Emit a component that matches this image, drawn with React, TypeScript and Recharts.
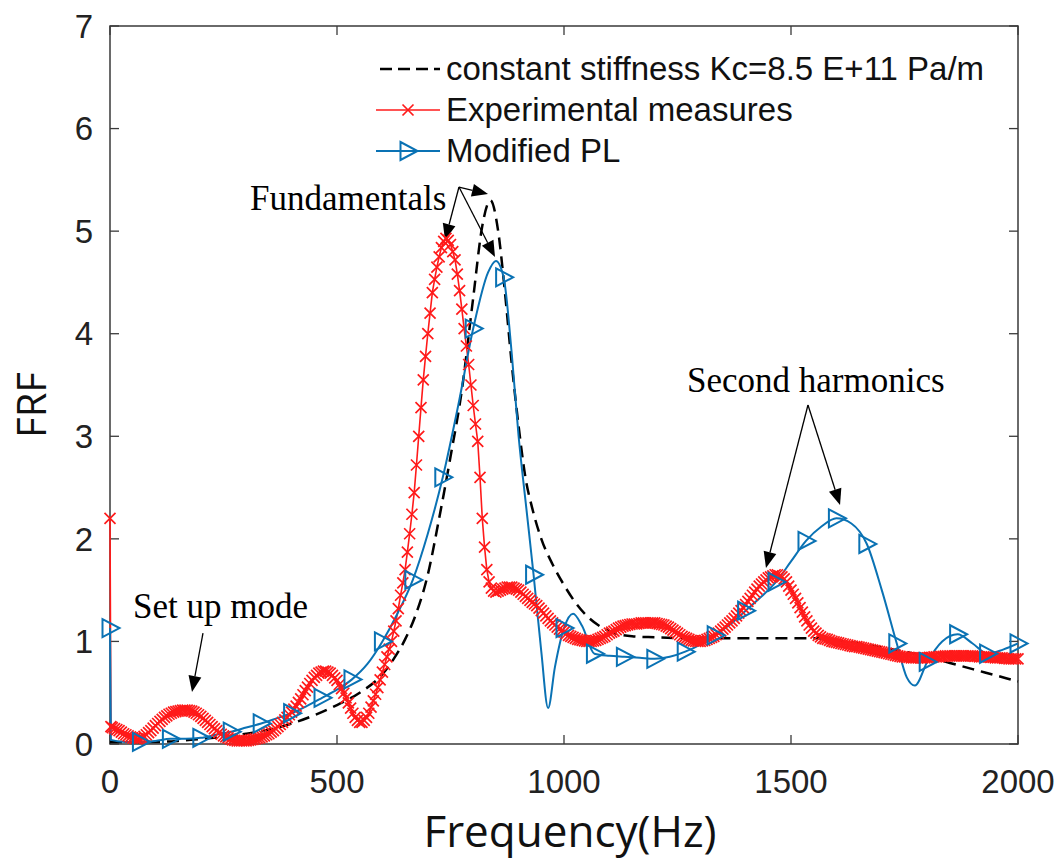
import React from 'react';
import {
  ComposedChart,
  Line,
  XAxis,
  YAxis,
  ReferenceLine,
  ReferenceDot,
  ReferenceArea,
  Legend,
  Label,
} from 'recharts';

// ---------- data ----------
const xTicks = [0, 500, 1000, 1500, 2000];
const yTicks = [0, 1, 2, 3, 4, 5, 6, 7];

const seriesNames = [
  'constant stiffness Kc=8.5 E+11 Pa/m',
  'Experimental measures',
  'Modified PL',
];

// constant stiffness (black dashed)
const constantStiffness: [number, number][] = [
  [0, 0.02], [50, 0.02], [100, 0.02], [150, 0.03], [200, 0.05], [250, 0.07], [300, 0.1],
  [350, 0.14], [400, 0.2], [450, 0.28], [500, 0.38], [550, 0.5], [600, 0.68], [625, 0.83],
  [650, 1.02], [675, 1.28], [700, 1.65], [725, 2.2], [750, 2.8], [775, 3.45], [800, 4.35],
  [820, 5.05], [838, 5.3], [855, 5.0], [870, 4.4], [885, 3.7], [900, 3.1], [915, 2.6],
  [930, 2.3], [950, 2.0], [975, 1.75], [1000, 1.55], [1025, 1.38], [1050, 1.25], [1075, 1.16],
  [1100, 1.1], [1150, 1.05], [1200, 1.04], [1300, 1.03], [1400, 1.03], [1500, 1.03],
  [1560, 1.03], [1600, 1.01], [1650, 0.98], [1700, 0.94], [1750, 0.9], [1800, 0.85],
  [1850, 0.79], [1900, 0.73], [1950, 0.67], [2000, 0.61],
];

// experimental measures (red, x markers)
const experimental: [number, number][] = [
  [0, 2.2], [2, 0.17], [5, 0.16], [10, 0.15], [15, 0.14], [20, 0.13], [25, 0.115], [30, 0.1],
  [35, 0.09], [40, 0.08], [45, 0.07], [50, 0.06], [55, 0.055], [60, 0.05], [65, 0.055],
  [70, 0.06], [75, 0.075], [80, 0.09], [85, 0.11], [90, 0.13], [95, 0.155], [100, 0.18],
  [105, 0.2], [110, 0.22], [115, 0.24], [120, 0.26], [125, 0.275], [130, 0.29], [135, 0.3],
  [140, 0.31], [145, 0.315], [150, 0.32], [155, 0.325], [160, 0.33], [165, 0.33], [170, 0.33],
  [175, 0.325], [180, 0.32], [185, 0.31], [190, 0.3], [195, 0.285], [200, 0.27], [205, 0.25],
  [210, 0.23], [215, 0.21], [220, 0.19], [225, 0.17], [230, 0.15], [235, 0.13], [240, 0.11],
  [245, 0.095], [250, 0.08], [255, 0.07], [260, 0.06], [265, 0.05], [270, 0.04], [275, 0.035],
  [280, 0.03], [285, 0.03], [290, 0.03], [295, 0.03], [300, 0.03], [305, 0.035], [310, 0.04],
  [315, 0.045], [320, 0.05], [325, 0.055], [330, 0.06], [335, 0.07], [340, 0.08], [345, 0.09],
  [350, 0.1], [355, 0.115], [360, 0.13], [365, 0.15], [370, 0.17], [375, 0.19], [380, 0.21],
  [385, 0.235], [390, 0.26], [395, 0.285], [400, 0.31], [405, 0.34], [410, 0.37], [415, 0.405],
  [420, 0.44], [425, 0.48], [430, 0.52], [435, 0.555], [440, 0.59], [445, 0.62], [450, 0.65],
  [455, 0.67], [460, 0.69], [465, 0.7], [470, 0.71], [475, 0.71], [480, 0.7], [485, 0.69],
  [490, 0.67], [495, 0.645], [500, 0.62], [505, 0.58], [510, 0.54], [515, 0.495], [520, 0.45],
  [525, 0.4], [530, 0.35], [535, 0.3], [540, 0.26], [545, 0.23], [550, 0.21], [555, 0.21],
  [560, 0.23], [565, 0.26], [570, 0.3], [575, 0.36], [580, 0.42], [585, 0.485], [590, 0.55],
  [595, 0.625], [600, 0.7], [605, 0.775], [610, 0.85], [615, 0.925], [620, 1.0], [625, 1.1],
  [630, 1.2], [635, 1.32], [640, 1.45], [645, 1.57], [650, 1.7], [655, 1.87], [660, 2.05],
  [665, 2.24], [670, 2.45], [675, 2.72], [680, 3.0], [685, 3.28], [690, 3.55], [695, 3.78],
  [700, 4.0], [705, 4.2], [710, 4.4], [715, 4.53], [720, 4.65], [725, 4.75], [730, 4.84],
  [735, 4.9], [740, 4.93], [745, 4.91], [750, 4.87], [755, 4.8], [760, 4.72], [765, 4.58],
  [770, 4.42], [775, 4.24], [780, 4.05], [785, 3.88], [790, 3.7], [795, 3.5], [800, 3.3],
  [805, 3.12], [810, 2.95], [815, 2.6], [820, 2.2], [825, 1.92], [830, 1.7], [835, 1.58],
  [840, 1.52], [845, 1.49], [850, 1.48], [855, 1.49], [860, 1.5], [865, 1.51], [870, 1.52],
  [875, 1.53], [880, 1.53], [885, 1.53], [890, 1.52], [895, 1.51], [900, 1.5], [905, 1.48],
  [910, 1.46], [915, 1.44], [920, 1.42], [925, 1.4], [930, 1.38], [935, 1.365], [940, 1.35],
  [945, 1.325], [950, 1.3], [955, 1.275], [960, 1.25], [965, 1.225], [970, 1.2], [975, 1.18],
  [980, 1.16], [985, 1.14], [990, 1.12], [995, 1.105], [1000, 1.09], [1005, 1.075],
  [1010, 1.06], [1015, 1.05], [1020, 1.04], [1025, 1.03], [1030, 1.02], [1035, 1.015],
  [1040, 1.01], [1045, 1.005], [1050, 1.0], [1055, 1.0], [1060, 1.0], [1065, 1.005],
  [1070, 1.01], [1075, 1.02], [1080, 1.03], [1085, 1.04], [1090, 1.05], [1095, 1.065],
  [1100, 1.08], [1105, 1.09], [1110, 1.1], [1115, 1.115], [1120, 1.13], [1125, 1.14],
  [1130, 1.15], [1135, 1.155], [1140, 1.16], [1145, 1.165], [1150, 1.17], [1155, 1.17],
  [1160, 1.17], [1165, 1.175], [1170, 1.18], [1175, 1.18], [1180, 1.18], [1185, 1.18],
  [1190, 1.18], [1195, 1.18], [1200, 1.18], [1205, 1.175], [1210, 1.17], [1215, 1.165],
  [1220, 1.16], [1225, 1.15], [1230, 1.14], [1235, 1.125], [1240, 1.11], [1245, 1.095],
  [1250, 1.08], [1255, 1.065], [1260, 1.05], [1265, 1.04], [1270, 1.03], [1275, 1.02],
  [1280, 1.01], [1285, 1.005], [1290, 1.0], [1295, 1.0], [1300, 1.0], [1305, 1.005],
  [1310, 1.01], [1315, 1.02], [1320, 1.03], [1325, 1.04], [1330, 1.05], [1335, 1.065],
  [1340, 1.08], [1345, 1.1], [1350, 1.12], [1355, 1.14], [1360, 1.16], [1365, 1.18],
  [1370, 1.2], [1375, 1.225], [1380, 1.25], [1385, 1.275], [1390, 1.3], [1395, 1.33],
  [1400, 1.36], [1405, 1.39], [1410, 1.42], [1415, 1.45], [1420, 1.48], [1425, 1.51],
  [1430, 1.54], [1435, 1.56], [1440, 1.58], [1445, 1.6], [1450, 1.62], [1455, 1.63],
  [1460, 1.64], [1465, 1.65], [1470, 1.65], [1475, 1.64], [1480, 1.63], [1485, 1.61],
  [1490, 1.58], [1495, 1.54], [1500, 1.5], [1505, 1.46], [1510, 1.42], [1515, 1.375],
  [1520, 1.33], [1525, 1.285], [1530, 1.24], [1535, 1.2], [1540, 1.16], [1545, 1.13],
  [1550, 1.1], [1555, 1.08], [1560, 1.06], [1565, 1.045], [1570, 1.03], [1575, 1.025],
  [1580, 1.02], [1585, 1.01], [1590, 1.0], [1595, 0.995], [1600, 0.99], [1605, 0.985],
  [1610, 0.98], [1615, 0.975], [1620, 0.97], [1625, 0.965], [1630, 0.96], [1635, 0.955],
  [1640, 0.95], [1645, 0.95], [1650, 0.945], [1655, 0.94], [1660, 0.935], [1665, 0.93],
  [1670, 0.925], [1675, 0.92], [1680, 0.915], [1685, 0.91], [1690, 0.905], [1695, 0.9],
  [1700, 0.895], [1705, 0.89], [1710, 0.885], [1715, 0.88], [1720, 0.875], [1725, 0.87],
  [1730, 0.865], [1735, 0.86], [1740, 0.855], [1745, 0.85], [1750, 0.85], [1755, 0.845],
  [1760, 0.845], [1765, 0.84], [1770, 0.84], [1775, 0.84], [1780, 0.84], [1785, 0.84],
  [1790, 0.84], [1795, 0.84], [1800, 0.84], [1805, 0.845], [1810, 0.845], [1815, 0.85],
  [1820, 0.85], [1825, 0.85], [1830, 0.855], [1835, 0.855], [1840, 0.86], [1845, 0.86],
  [1850, 0.86], [1855, 0.86], [1860, 0.86], [1865, 0.86], [1870, 0.86], [1875, 0.86],
  [1880, 0.86], [1885, 0.86], [1890, 0.86], [1895, 0.86], [1900, 0.86], [1905, 0.855],
  [1910, 0.855], [1915, 0.85], [1920, 0.85], [1925, 0.85], [1930, 0.85], [1935, 0.85],
  [1940, 0.845], [1945, 0.845], [1950, 0.84], [1955, 0.84], [1960, 0.84], [1965, 0.84],
  [1970, 0.835], [1975, 0.835], [1980, 0.83], [1985, 0.83], [1990, 0.83], [1995, 0.83],
  [2000, 0.83],
];

// modified PL (blue line)
const modifiedPL: [number, number][] = [
  [0, 1.13], [2, 0.04], [33, 0.02], [67, 0.02], [100, 0.03], [133, 0.05], [167, 0.05],
  [200, 0.06], [233, 0.09], [267, 0.12], [300, 0.16], [333, 0.2], [367, 0.25], [400, 0.3],
  [433, 0.37], [467, 0.45], [500, 0.53], [533, 0.63], [567, 0.78], [600, 1.0], [633, 1.27],
  [667, 1.6], [700, 2.05], [733, 2.6], [767, 3.3], [800, 4.05], [833, 4.6], [850, 4.71],
  [867, 4.55], [885, 3.8], [900, 3.0], [917, 2.3], [933, 1.65], [950, 0.9], [965, 0.35],
  [980, 0.75], [1000, 1.13], [1020, 1.27], [1040, 1.15], [1067, 0.88], [1100, 0.86],
  [1133, 0.85], [1167, 0.84], [1200, 0.83], [1233, 0.85], [1267, 0.9], [1300, 0.97],
  [1333, 1.06], [1367, 1.17], [1400, 1.3], [1433, 1.43], [1467, 1.58], [1500, 1.78],
  [1533, 1.98], [1567, 2.12], [1600, 2.2], [1633, 2.15], [1667, 1.95], [1700, 1.5],
  [1733, 0.98], [1755, 0.65], [1773, 0.57], [1800, 0.8], [1833, 1.0], [1867, 1.07],
  [1900, 0.98], [1933, 0.88], [1967, 0.92], [2000, 0.98],
];

// modified PL marker points (blue triangles)
const modifiedPLMarkers: [number, number][] = [
  [0, 1.13], [67, 0.02], [133, 0.05], [200, 0.06], [267, 0.12], [333, 0.2], [400, 0.3],
  [467, 0.45], [533, 0.63], [600, 1.0], [667, 1.6], [733, 2.6], [800, 4.05], [867, 4.55],
  [933, 1.65], [1000, 1.13], [1067, 0.88], [1133, 0.85], [1200, 0.83], [1267, 0.9],
  [1333, 1.06], [1400, 1.3], [1467, 1.58], [1533, 1.98], [1600, 2.2], [1667, 1.95],
  [1733, 0.98], [1800, 0.8], [1867, 1.07], [1933, 0.88], [2000, 0.98],
];

// ---------- styles ----------
const RED = '#ff1a1a';
const BLUE = '#0a72b4';
const AXIS = '#3a3a3a';
const SANS = 'Liberation Sans, Arial, sans-serif';
const SERIF = 'Liberation Serif, Times New Roman, serif';
const LABEL_FONT = 'Open Sans, Noto Sans, sans-serif';

const toRows = (arr: [number, number][]) => arr.map(([f, v]) => ({ f, v }));

const XMark = (props: any) => {
  const { cx, cy, index } = props;
  if (cx == null || cy == null) return <g key={`xm-${index}`} />;
  const s = 5.5;
  return (
    <path
      key={`xm-${index}`}
      d={`M${cx - s},${cy - s}L${cx + s},${cy + s}M${cx - s},${cy + s}L${cx + s},${cy - s}`}
      stroke={RED}
      strokeWidth={1.7}
      fill="none"
    />
  );
};

const TriMark = (props: any) => {
  const { cx, cy, index } = props;
  if (cx == null || cy == null) return <g key={`tm-${index}`} />;
  return (
    <polygon
      key={`tm-${index}`}
      points={`${cx - 7.5},${cy - 9} ${cx + 9.5},${cy} ${cx - 7.5},${cy + 9}`}
      stroke={BLUE}
      strokeWidth={2}
      fill="none"
    />
  );
};

const Arrow = (p: any) => {
  const { x1, y1, x2, y2 } = p;
  const dx = x2 - x1;
  const dy = y2 - y1;
  const len = Math.hypot(dx, dy) || 1;
  const ux = dx / len;
  const uy = dy / len;
  const hl = 16;
  const hw = 6.5;
  const bx = x2 - ux * hl;
  const by = y2 - uy * hl;
  return (
    <g>
      <line x1={x1} y1={y1} x2={bx} y2={by} stroke="#000" strokeWidth={1.3} />
      <polygon
        points={`${x2},${y2} ${bx - uy * hw},${by + ux * hw} ${bx + uy * hw},${by - ux * hw}`}
        fill="#000"
      />
    </g>
  );
};

const annotText = (text: string) => (p: any) => (
  <text x={p.cx} y={p.cy} fontFamily={SERIF} fontSize={35} fill="#000">
    {text}
  </text>
);

const xTickShape = (p: any) => {
  const top = Math.min(p.y1, p.y2);
  const bot = Math.max(p.y1, p.y2);
  return (
    <g>
      <line x1={p.x1} x2={p.x1} y1={top} y2={top + 9} stroke={AXIS} strokeWidth={1.3} />
      <line x1={p.x1} x2={p.x1} y1={bot} y2={bot - 9} stroke={AXIS} strokeWidth={1.3} />
    </g>
  );
};

const yTickShape = (p: any) => {
  const l = Math.min(p.x1, p.x2);
  const r = Math.max(p.x1, p.x2);
  return (
    <g>
      <line x1={l} x2={l + 9} y1={p.y1} y2={p.y1} stroke={AXIS} strokeWidth={1.3} />
      <line x1={r} x2={r - 9} y1={p.y1} y2={p.y1} stroke={AXIS} strokeWidth={1.3} />
    </g>
  );
};

const LegendBox = () => (
  <div style={{ fontFamily: SANS }}>
    {seriesNames.map((name, i) => (
      <div key={name} style={{ display: 'flex', alignItems: 'center', height: 41 }}>
        <svg width={64} height={30} style={{ display: 'block' }}>
          {i === 0 && (
            <line x1={4} y1={15} x2={64} y2={15} stroke="#000" strokeWidth={2.5} strokeDasharray="12 6" />
          )}
          {i === 1 && (
            <g>
              <line x1={0} y1={15} x2={64} y2={15} stroke={RED} strokeWidth={1.6} />
              <path d="M26.5,9.5L37.5,20.5M26.5,20.5L37.5,9.5" stroke={RED} strokeWidth={1.7} fill="none" />
            </g>
          )}
          {i === 2 && (
            <g>
              <line x1={0} y1={15} x2={64} y2={15} stroke={BLUE} strokeWidth={2} />
              <polygon points="24.5,6 41.5,15 24.5,24" stroke={BLUE} strokeWidth={2} fill="none" />
            </g>
          )}
        </svg>
        <span style={{ fontSize: 33, color: '#111', marginLeft: 6, whiteSpace: 'nowrap', lineHeight: '33px' }}>
          {name}
        </span>
      </div>
    ))}
  </div>
);

export default function App() {
  return (
    <div style={{ width: 1056, height: 853, background: '#fff' }}>
      <ComposedChart width={1056} height={853} margin={{ top: 18, right: 46, bottom: 57, left: 42 }}>
        <XAxis
          dataKey="f"
          type="number"
          domain={[0, 2000]}
          ticks={xTicks}
          interval={0}
          tickLine={false}
          axisLine={false}
          height={60}
          tickMargin={20}
          tick={{ fontSize: 33, fill: '#222', fontFamily: SANS }}
        >
          <Label
            content={(p: any) => {
              const vb = p.viewBox;
              return (
                <text
                  x={vb.x + vb.width / 2 + 6}
                  y={vb.y + 86}
                  textAnchor="middle"
                  dominantBaseline="central"
                  fontSize={44}
                  fontFamily={LABEL_FONT}
                  fill="#111"
                >
                  Frequency(Hz)
                </text>
              );
            }}
          />
        </XAxis>
        <YAxis
          type="number"
          domain={[0, 7]}
          ticks={yTicks}
          interval={0}
          tickLine={false}
          axisLine={false}
          width={60}
          tickMargin={11}
          tick={{ fontSize: 33, fill: '#222', fontFamily: SANS }}
        >
          <Label
            content={(p: any) => {
              const vb = p.viewBox;
              const cx = vb.x - 20;
              const cy = vb.y + vb.height / 2 + 20;
              return (
                <g transform={`translate(${cx}, ${cy}) rotate(-90)`}>
                  <text
                    x={0}
                    y={0}
                    textAnchor="middle"
                    dominantBaseline="central"
                    fontSize={40}
                    fontFamily={LABEL_FONT}
                    fill="#111"
                  >
                    FRF
                  </text>
                </g>
              );
            }}
          />
        </YAxis>

        <ReferenceArea x1={0} x2={2000} y1={0} y2={7} fill="none" stroke={AXIS} strokeWidth={1.5} />
        {xTicks.map((t) => (
          <ReferenceLine key={`xt-${t}`} x={t} shape={xTickShape} />
        ))}
        {yTicks.map((t) => (
          <ReferenceLine key={`yt-${t}`} y={t} shape={yTickShape} />
        ))}

        <Line
          data={toRows(constantStiffness)}
          dataKey="v"
          type="monotone"
          stroke="#000"
          strokeWidth={2.5}
          strokeDasharray="12 7"
          dot={false}
          isAnimationActive={false}
        />
        <Line
          data={toRows(experimental)}
          dataKey="v"
          type="linear"
          stroke={RED}
          strokeWidth={1.6}
          dot={XMark}
          isAnimationActive={false}
        />
        <Line
          data={toRows(modifiedPL)}
          dataKey="v"
          type="monotone"
          stroke={BLUE}
          strokeWidth={2}
          dot={false}
          isAnimationActive={false}
        />
        <Line
          data={toRows(modifiedPLMarkers)}
          dataKey="v"
          type="linear"
          stroke="none"
          dot={TriMark}
          isAnimationActive={false}
        />

        {/* annotations */}
        <ReferenceDot x={50.7} y={1.228} r={0} ifOverflow="visible" shape={annotText('Set up mode')} />
        <ReferenceDot x={308.4} y={5.206} r={0} ifOverflow="visible" shape={annotText('Fundamentals')} />
        <ReferenceDot x={1271} y={3.432} r={0} ifOverflow="visible" shape={annotText('Second harmonics')} />

        <ReferenceLine segment={[{ x: 204.8, y: 1.082 }, { x: 180.6, y: 0.507 }]} ifOverflow="visible" shape={Arrow} />
        <ReferenceLine segment={[{ x: 768.7, y: 5.43 }, { x: 737.9, y: 4.914 }]} ifOverflow="visible" shape={Arrow} />
        <ReferenceLine segment={[{ x: 768.7, y: 5.43 }, { x: 832.6, y: 5.362 }]} ifOverflow="visible" shape={Arrow} />
        <ReferenceLine segment={[{ x: 768.7, y: 5.43 }, { x: 848, y: 4.748 }]} ifOverflow="visible" shape={Arrow} />
        <ReferenceLine segment={[{ x: 1537.4, y: 3.305 }, { x: 1444.9, y: 1.716 }]} ifOverflow="visible" shape={Arrow} />
        <ReferenceLine segment={[{ x: 1537.4, y: 3.305 }, { x: 1608, y: 2.33 }]} ifOverflow="visible" shape={Arrow} />

        <Legend
          layout="vertical"
          align="center"
          verticalAlign="middle"
          wrapperStyle={{ position: 'absolute', left: 368, top: 40, width: 'auto', height: 'auto' }}
          content={() => <LegendBox />}
        />
      </ComposedChart>
    </div>
  );
}
